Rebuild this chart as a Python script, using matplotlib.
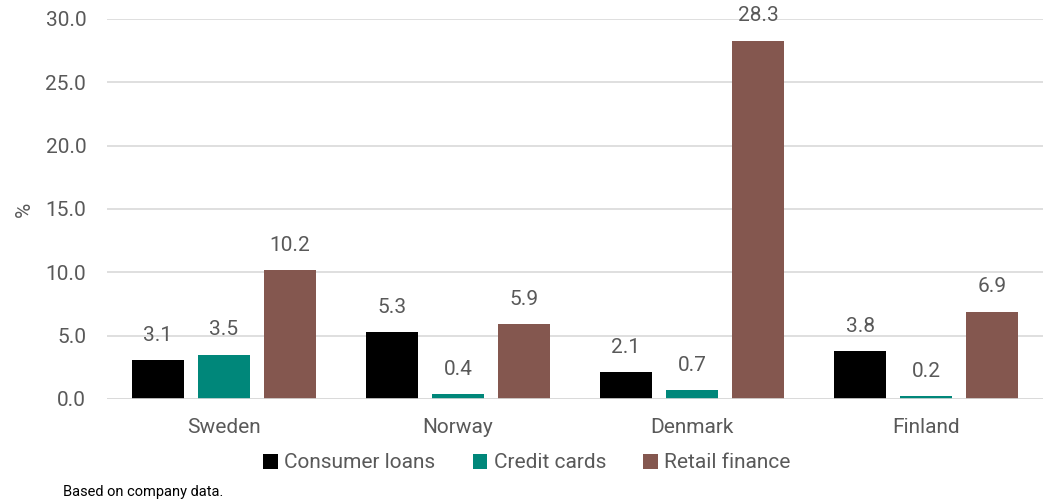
import matplotlib
matplotlib.use("Agg")
import matplotlib.pyplot as plt
import numpy as np

plt.rcParams['font.family'] = ['Roboto', 'DejaVu Sans']

countries = ["Sweden", "Norway", "Denmark", "Finland"]
series_names = ["Consumer loans", "Credit cards", "Retail finance"]
consumer_loans = [3.1, 5.3, 2.1, 3.8]
credit_cards = [3.5, 0.4, 0.7, 0.2]
retail_finance = [10.2, 5.9, 28.3, 6.9]
colors = ["#000000", "#00877A", "#84574F"]

text_color = "#595959"
grid_color = "#D9D9D9"
fs = 15

fig = plt.figure(figsize=(10.53, 5.01), dpi=100)
ax = fig.add_axes([107/1053, 1 - 399/501, 936/1053, 380/501])

x = np.arange(len(countries))
width = 0.226
step = 0.282
for i, (vals, name, col) in enumerate(zip([consumer_loans, credit_cards, retail_finance], series_names, colors)):
    pos = x + (i - 1) * step
    bars = ax.bar(pos, vals, width, color=col, label=name, zorder=3)
    for b, v in zip(bars, vals):
        ax.text(b.get_x() + b.get_width() / 2, v + 1.2, f"{v:.1f}",
                ha="center", va="bottom", fontsize=fs, color=text_color)

ax.set_xlim(-0.5, len(countries) - 0.5)
ax.set_ylim(0, 30)
ax.set_yticks(np.arange(0, 30.1, 5))
ax.set_yticklabels([f"{t:.1f}" for t in np.arange(0, 30.1, 5)])
ax.set_xticks(x)
ax.set_xticklabels(countries)
ax.tick_params(axis="both", length=0, labelsize=fs, colors=text_color)
ax.tick_params(axis="y", pad=15)
ax.tick_params(axis="x", pad=14)
ax.grid(axis="y", color=grid_color, linewidth=1.2, zorder=0)
for s in ax.spines.values():
    s.set_visible(False)
ax.axhline(0, color=grid_color, linewidth=1.2, zorder=4)

ax.set_ylabel("%", fontsize=fs, color=text_color, labelpad=8)

leg = fig.legend(loc="center", bbox_to_anchor=(527/1053, 1 - 463/501), ncol=3,
                 frameon=False, fontsize=fs, handlelength=0.7, handleheight=0.7,
                 handletextpad=0.3, columnspacing=1.8, labelcolor=text_color)

fig.text(63/1053, 1 - 492/501, "Based on company data.", fontsize=10.5,
         color="#000000", ha="left", va="center")

fig.savefig("out.png", dpi=100)
